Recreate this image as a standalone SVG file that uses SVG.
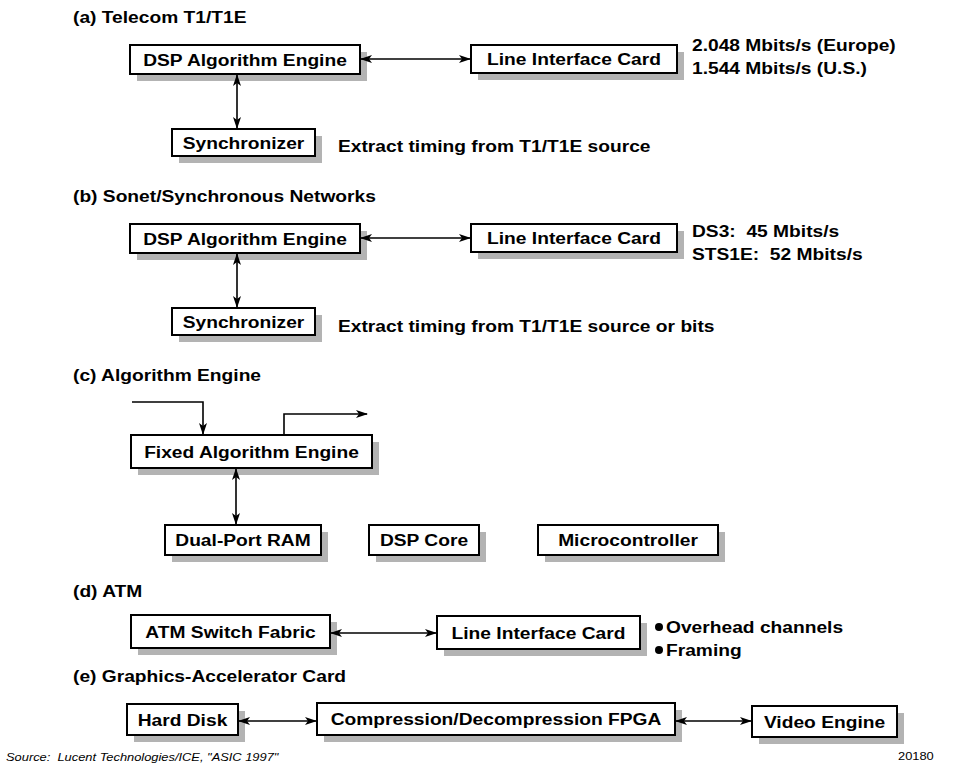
<svg xmlns="http://www.w3.org/2000/svg" width="954" height="765" viewBox="0 0 954 765">
<defs>
<marker id="ah" viewBox="0 0 12 8" refX="11" refY="4" markerWidth="12" markerHeight="8" markerUnits="userSpaceOnUse" orient="auto-start-reverse">
<path d="M0,0 L12,4 L0,8 L3,4 z" fill="#000"/>
</marker>
</defs>
<style>
text{font-family:"Liberation Sans",Arial,Helvetica,sans-serif;fill:#000}
.t{font-size:17px;font-weight:bold}
.b{font-size:17px;font-weight:bold;text-anchor:middle}
.sh{fill:#b3b3b3}
.bx{fill:#fff;stroke:#000;stroke-width:2}
.c{fill:none;stroke:#000;stroke-width:1.6}
.f{font-size:11.5px}
</style>
<rect width="954" height="765" fill="#fff"/>

<!-- titles and notes -->
<text class="t" transform="translate(73,23) scale(1.13,1)">(a) Telecom T1/T1E</text>
<text class="t" transform="translate(692,51) scale(1.13,1)">2.048 Mbits/s (Europe)</text>
<text class="t" transform="translate(692,74) scale(1.13,1)">1.544 Mbits/s (U.S.)</text>
<text class="t" transform="translate(338,152) scale(1.13,1)">Extract timing from T1/T1E source</text>

<text class="t" transform="translate(73,202) scale(1.13,1)">(b) Sonet/Synchronous Networks</text>
<text class="t" transform="translate(692,237) scale(1.13,1)" xml:space="preserve">DS3:  45 Mbits/s</text>
<text class="t" transform="translate(692,260) scale(1.13,1)" xml:space="preserve">STS1E:  52 Mbits/s</text>
<text class="t" transform="translate(338,332) scale(1.13,1)">Extract timing from T1/T1E source or bits</text>

<text class="t" transform="translate(73,381) scale(1.13,1)">(c) Algorithm Engine</text>

<text class="t" transform="translate(73,597) scale(1.13,1)">(d) ATM</text>
<circle cx="659" cy="627" r="4"/>
<text class="t" transform="translate(666,633) scale(1.13,1)">Overhead channels</text>
<circle cx="659" cy="650" r="4"/>
<text class="t" transform="translate(666,656) scale(1.13,1)">Framing</text>

<text class="t" transform="translate(73,682) scale(1.13,1)">(e) Graphics-Accelerator Card</text>

<text class="f" transform="translate(6,761) scale(1.12,1)" font-style="italic" xml:space="preserve">Source:  Lucent Technologies/ICE, "ASIC 1997"</text>
<text class="f" transform="translate(898,760) scale(1.12,1)">20180</text>

<!-- nodes -->
<g id="a-dsp"><rect class="sh" x="137" y="52" width="230" height="29"/><rect class="bx" x="130" y="45" width="230" height="29"/><text class="b" transform="translate(245,65.5) scale(1.13,1)">DSP Algorithm Engine</text></g>
<g id="a-lic"><rect class="sh" x="478" y="52" width="206" height="28"/><rect class="bx" x="471" y="45" width="206" height="28"/><text class="b" transform="translate(574,65) scale(1.13,1)">Line Interface Card</text></g>
<g id="a-sync"><rect class="sh" x="179" y="136" width="143" height="27"/><rect class="bx" x="172" y="129" width="143" height="27"/><text class="b" transform="translate(243.5,148.5) scale(1.13,1)">Synchronizer</text></g>

<g id="b-dsp"><rect class="sh" x="137" y="231" width="230" height="29"/><rect class="bx" x="130" y="224" width="230" height="29"/><text class="b" transform="translate(245,244.5) scale(1.13,1)">DSP Algorithm Engine</text></g>
<g id="b-lic"><rect class="sh" x="478" y="231" width="206" height="28"/><rect class="bx" x="471" y="224" width="206" height="28"/><text class="b" transform="translate(574,244) scale(1.13,1)">Line Interface Card</text></g>
<g id="b-sync"><rect class="sh" x="179" y="315" width="143" height="27"/><rect class="bx" x="172" y="308" width="143" height="27"/><text class="b" transform="translate(243.5,327.5) scale(1.13,1)">Synchronizer</text></g>

<g id="c-fae"><rect class="sh" x="138" y="442" width="241" height="33"/><rect class="bx" x="131" y="435" width="241" height="33"/><text class="b" transform="translate(251.5,457.5) scale(1.13,1)">Fixed Algorithm Engine</text></g>
<g id="c-ram"><rect class="sh" x="172" y="532" width="156" height="30"/><rect class="bx" x="165" y="525" width="156" height="30"/><text class="b" transform="translate(243,546) scale(1.13,1)">Dual-Port RAM</text></g>
<g id="c-dsp"><rect class="sh" x="376" y="532" width="110" height="30"/><rect class="bx" x="369" y="525" width="110" height="30"/><text class="b" transform="translate(424,546) scale(1.13,1)">DSP Core</text></g>
<g id="c-mc"><rect class="sh" x="545" y="532" width="180" height="30"/><rect class="bx" x="538" y="525" width="180" height="30"/><text class="b" transform="translate(628,546) scale(1.13,1)">Microcontroller</text></g>

<g id="d-atm"><rect class="sh" x="138" y="622" width="199" height="33"/><rect class="bx" x="131" y="615" width="199" height="33"/><text class="b" transform="translate(230.5,637.5) scale(1.13,1)">ATM Switch Fabric</text></g>
<g id="d-lic"><rect class="sh" x="444" y="623" width="203" height="33"/><rect class="bx" x="437" y="616" width="203" height="33"/><text class="b" transform="translate(538.5,638.5) scale(1.13,1)">Line Interface Card</text></g>

<g id="e-hd"><rect class="sh" x="134" y="711" width="111" height="31"/><rect class="bx" x="127" y="704" width="111" height="31"/><text class="b" transform="translate(182.5,725.5) scale(1.13,1)">Hard Disk</text></g>
<g id="e-fpga"><rect class="sh" x="324" y="710" width="358" height="32"/><rect class="bx" x="317" y="703" width="358" height="32"/><text class="b" transform="translate(496,725) scale(1.13,1)">Compression/Decompression FPGA</text></g>
<g id="e-ve"><rect class="sh" x="759" y="713" width="145" height="31"/><rect class="bx" x="752" y="706" width="145" height="31"/><text class="b" transform="translate(824.5,727.5) scale(1.13,1)">Video Engine</text></g>

<!-- connectors -->
<g id="connectors">
<line class="c" x1="361" y1="59" x2="470" y2="59" marker-start="url(#ah)" marker-end="url(#ah)"/>
<line class="c" x1="237" y1="75" x2="237" y2="128" marker-start="url(#ah)" marker-end="url(#ah)"/>
<line class="c" x1="361" y1="238" x2="470" y2="238" marker-start="url(#ah)" marker-end="url(#ah)"/>
<line class="c" x1="237" y1="254" x2="237" y2="307" marker-start="url(#ah)" marker-end="url(#ah)"/>
<polyline class="c" points="132,402 203,402 203,434" marker-end="url(#ah)"/>
<polyline class="c" points="284,434 284,414 367,414" marker-end="url(#ah)"/>
<line class="c" x1="236" y1="469" x2="236" y2="524" marker-start="url(#ah)" marker-end="url(#ah)"/>
<line class="c" x1="331" y1="633" x2="436" y2="633" marker-start="url(#ah)" marker-end="url(#ah)"/>
<line class="c" x1="239" y1="721" x2="316" y2="721" marker-start="url(#ah)" marker-end="url(#ah)"/>
<line class="c" x1="676" y1="721" x2="751" y2="721" marker-start="url(#ah)" marker-end="url(#ah)"/>
</g>
</svg>
